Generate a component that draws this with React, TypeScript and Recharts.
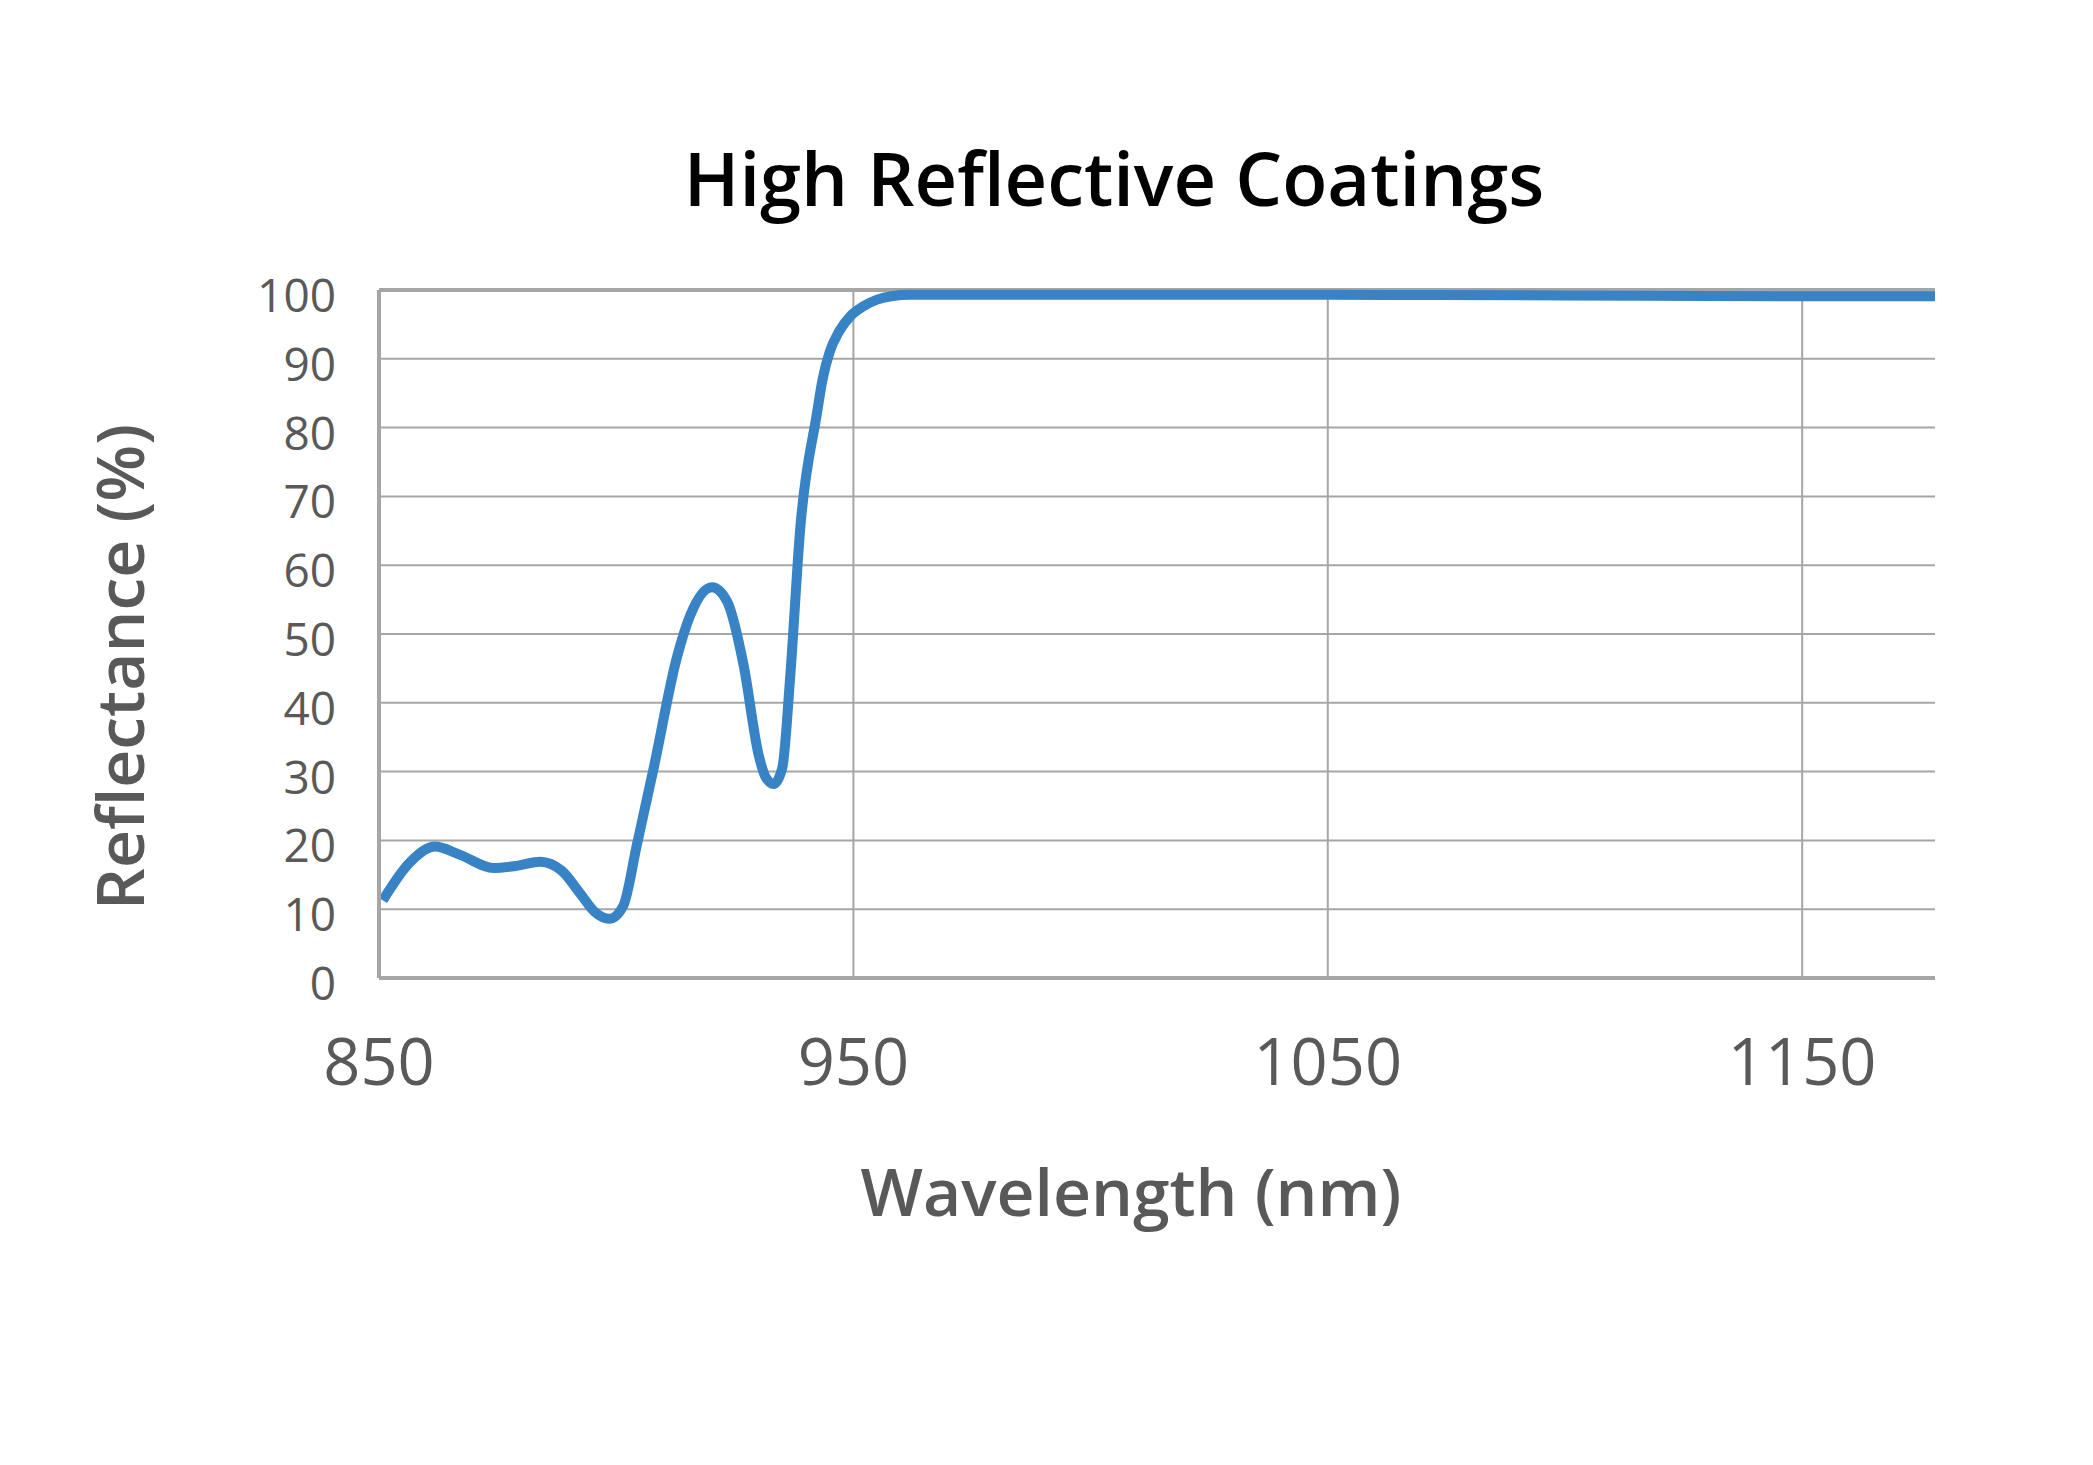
import { LineChart, Line, XAxis, YAxis, CartesianGrid, ReferenceLine } from "recharts";

// reflectance curve
const wavelengths = [
    850.8, 856.5, 861.8, 867.1, 874.1, 879, 884, 888.5, 892.5, 895.5, 898.6, 901.5, 904.4, 907.9,
    912.8, 915.6, 920.2, 923.4, 926.9, 930, 931.5, 933.2, 935, 936.7, 938.8, 942.3, 943.5,
    945, 947, 949.5, 952, 955, 958, 962, 970, 1000, 1050, 1100, 1150, 1178,
];
const reflectance = [
    11.3, 16.8, 19.1, 17.9, 16.0, 16.3, 16.9, 15.6, 12.2, 9.6, 8.6, 10.5, 19.5, 30.5,
    46.6, 52.7, 56.8, 54.7, 45.3, 32.5, 29.2, 28.2, 30.5, 44, 65.4, 82, 87,
    91, 94, 96.3, 97.6, 98.6, 99.1, 99.3, 99.3, 99.3, 99.3, 99.2, 99.1, 99.1,
];
const xTicks = [850, 950, 1050, 1150];
const yTicks = [0, 10, 20, 30, 40, 50, 60, 70, 80, 90, 100];

const W = 2093;
const H = 1465;
const FONT = "'Open Sans', 'Noto Sans', sans-serif";
const GREY = "#595959";
const GRID = "#a6a6a6";

const data = wavelengths.map((wl, i) => ({ wl, r: reflectance[i] }));

function XTick(props: any) {
    const { x, y, payload } = props;
    return (
        <text x={x} y={y + 82} textAnchor="middle" dominantBaseline="central"
            fill={GREY} fontSize={65} fontFamily={FONT}>
            {payload.value}
        </text>
    );
}

function YTick(props: any) {
    const { x, y, payload } = props;
    return (
        <text x={x - 43} y={y + 4} textAnchor="end" dominantBaseline="central"
            fill={GREY} fontSize={46} fontFamily={FONT}>
            {payload.value}
        </text>
    );
}

export default function App() {
    return (
        <div style={{ position: "absolute", left: 0, top: 0, width: W, height: H, background: "#fff" }}>
            {/* Title */}
            <div style={{
                position: "absolute", left: 0, width: 2228, top: 133, textAlign: "center",
                fontFamily: FONT, fontSize: 74, fontWeight: 600, color: "#000", lineHeight: "90px",
            }}>
                High Reflective Coatings
            </div>

            {/* Axis titles */}
            <div style={{
                position: "absolute", left: 0, width: 2262, top: 1148, textAlign: "center",
                fontFamily: FONT, fontSize: 66, fontWeight: 600, color: GREY, lineHeight: "84px",
            }}>
                Wavelength (nm)
            </div>
            <div style={{
                position: "absolute", left: 118, top: 667, width: 700, marginLeft: -350,
                height: 84, marginTop: -42, textAlign: "center", transform: "rotate(-90deg)",
                fontFamily: FONT, fontSize: 66, fontWeight: 600, color: GREY, lineHeight: "84px",
            }}>
                Reflectance (%)
            </div>

            <LineChart width={W} height={H} data={data}
                margin={{ top: 290, right: 158, bottom: 387, left: 279 }}>
                <CartesianGrid stroke={GRID} strokeWidth={2}
                    horizontalValues={yTicks} verticalValues={xTicks} />
                <XAxis dataKey="wl" type="number" domain={[850, 1178]} ticks={xTicks}
                    allowDataOverflow height={100} tickSize={0} tickMargin={0}
                    tickLine={false} axisLine={{ stroke: GRID, strokeWidth: 4 }} tick={<XTick />} />
                <YAxis type="number" domain={[0, 100]} ticks={yTicks} width={100}
                    tickSize={0} tickMargin={0} tickLine={false}
                    axisLine={{ stroke: GRID, strokeWidth: 4 }} tick={<YTick />} />
                <ReferenceLine y={100} stroke={GRID} strokeWidth={4} />
                <Line type="monotone" dataKey="r" stroke="#3883c6" strokeWidth={10}
                    dot={false} isAnimationActive={false} />
            </LineChart>
        </div>
    );
}
